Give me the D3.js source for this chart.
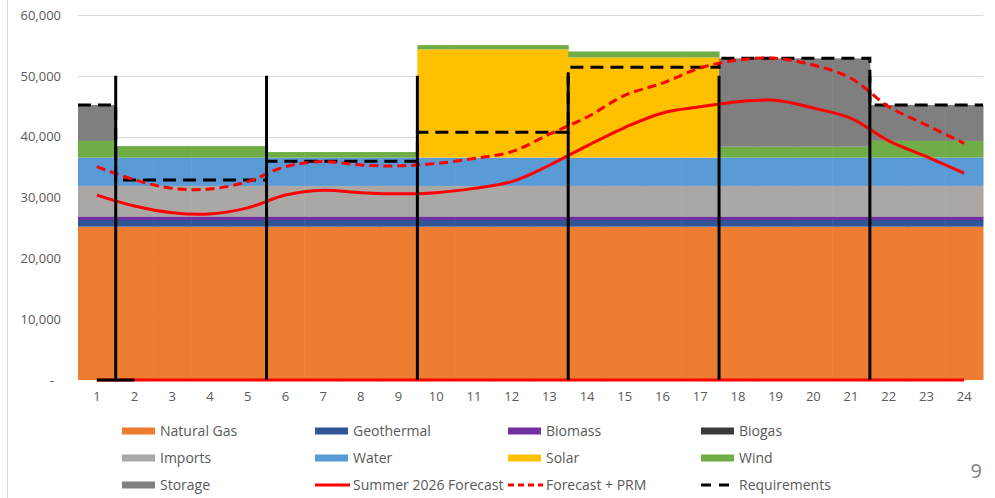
<!DOCTYPE html>
<html>
<head>
<meta charset="utf-8">
<script src="https://cdn.jsdelivr.net/npm/d3@7/dist/d3.min.js"></script>
<style>
  html, body { margin: 0; padding: 0; background: #fff; }
  svg { display: block; font-family: "Open Sans", "Noto Sans", sans-serif; }
</style>
</head>
<body>
<svg id="chart" width="995" height="498"></svg>
<script>
// Hour-ending categories
const hours = ["1","2","3","4","5","6","7","8","9","10","11","12","13","14","15","16","17","18","19","20","21","22","23","24"];

// Resource stack (MW) by hour
const naturalGas = [25200,25200,25200,25200,25200,25200,25200,25200,25200,25200,25200,25200,25200,25200,25200,25200,25200,25200,25200,25200,25200,25200,25200,25200];
const geothermal = [1100,1100,1100,1100,1100,1100,1100,1100,1100,1100,1100,1100,1100,1100,1100,1100,1100,1100,1100,1100,1100,1100,1100,1100];
const biomass    = [550,550,550,550,550,550,550,550,550,550,550,550,550,550,550,550,550,550,550,550,550,550,550,550];
const biogas     = [50,50,50,50,50,50,50,50,50,50,50,50,50,50,50,50,50,50,50,50,50,50,50,50];
const imports    = [5000,5000,5000,5000,5000,5000,5000,5000,5000,5000,5000,5000,5000,5000,5000,5000,5000,5000,5000,5000,5000,5000,5000,5000];
const water      = [4650,4650,4650,4650,4650,4650,4650,4650,4650,4650,4650,4650,4650,4650,4650,4650,4650,4650,4650,4650,4650,4650,4650,4650];
const solar      = [0,0,0,0,0,0,0,0,0,17800,17800,17800,17800,16470,16470,16470,16470,0,0,0,0,0,0,0];
const wind       = [2750,1900,1900,1900,1900,920,920,920,920,710,710,710,710,980,980,980,980,1790,1790,1790,1790,2750,2750,2750];
const storage    = [5900,0,0,0,0,0,0,0,0,0,0,0,0,0,0,0,0,14530,14530,14530,14530,5900,5900,5900];

// Load lines (MW)
const forecast    = [30400,28600,27500,27300,28300,30400,31200,30800,30600,30800,31500,32600,35300,38500,41500,43900,44900,45750,46000,44700,43000,39300,36700,34000];
const forecastPRM = [35070,32900,31500,31400,32600,35070,35900,35340,35200,35600,36400,37530,40400,43200,46800,48800,51300,52600,52880,51780,49600,44930,41920,38900];
const requirements = [45200,32880,32880,32880,32880,35950,35950,35950,35950,40720,40720,40720,40720,51400,51400,51400,51400,52880,52880,52880,52880,45200,45200,45200];

// Block boundaries (first hour of each new block) and their marker height
const blockStarts = ["2","6","10","14","18","22"];
const blockMarkerTop = 50000;

const yTicks = [0,10000,20000,30000,40000,50000,60000];

const seriesNames  = ["Natural Gas","Geothermal","Biomass","Biogas","Imports","Water","Solar","Wind","Storage"];
const seriesValues = [naturalGas, geothermal, biomass, biogas, imports, water, solar, wind, storage];
const seriesColors = ["#ED7D31","#2F5597","#7030A0","#3A3A3A","#ABA7A5","#5B9BD5","#FFC000","#70AD47","#7F7F7F"];

const svg = d3.select("#chart");

const x = d3.scaleBand().domain(hours).range([78, 983]).padding(0);
const y = d3.scaleLinear().domain([0, 60000]).range([380, 15]);
const cx = h => x(h) + x.bandwidth() / 2;

// outer frame line on the left
svg.append("line").attr("x1", 7.5).attr("x2", 7.5).attr("y1", 0).attr("y2", 498)
  .attr("stroke", "#d9d9d9").attr("stroke-width", 1);

// gridlines
svg.append("g").selectAll("line").data(yTicks.filter(d => d > 0)).join("line")
  .attr("x1", 78).attr("x2", 983)
  .attr("y1", d => Math.round(y(d)) + 0.5).attr("y2", d => Math.round(y(d)) + 0.5)
  .attr("stroke", "#d9d9d9").attr("stroke-width", 1);

// y axis labels (accounting style: zero shown as a dash)
const yAxis = d3.axisLeft(y).tickValues(yTicks).tickSize(0).tickPadding(0)
  .tickFormat(d => d === 0 ? "-" : d3.format(",")(d));
const gy = svg.append("g").attr("transform", "translate(61,0)").call(yAxis);
gy.select(".domain").remove();
gy.selectAll("text").attr("fill", "#595959").style("font-size", "13px")
  .style("font-family", "'Open Sans', sans-serif")
  .attr("dx", d => d === 0 ? -7 : 0);

// stacked columns
const table = hours.map((h, i) => {
  const row = { hour: h };
  seriesNames.forEach((n, k) => row[n] = seriesValues[k][i]);
  return row;
});
const stacked = d3.stack().keys(seriesNames)(table);
svg.append("g").selectAll("g").data(stacked).join("g")
  .attr("fill", (d, i) => seriesColors[i])
  .selectAll("rect").data(d => d).join("rect")
  .attr("x", d => x(d.data.hour))
  .attr("width", x.bandwidth() + 0.5)
  .attr("y", d => y(d[1]))
  .attr("height", d => Math.max(0, y(d[0]) - y(d[1])));

// baseline lines along zero
svg.append("line")
  .attr("x1", cx(hours[0])).attr("x2", cx(hours[hours.length - 1]))
  .attr("y1", y(0)).attr("y2", y(0))
  .attr("stroke", "#FF0000").attr("stroke-width", 3);
svg.append("line")
  .attr("x1", cx(hours[0])).attr("x2", cx(hours[1]))
  .attr("y1", y(0)).attr("y2", y(0))
  .attr("stroke", "#000").attr("stroke-width", 3);

// x axis labels
const xAxis = d3.axisBottom(x).tickSize(0).tickPadding(0);
const gx = svg.append("g").attr("transform", "translate(0,392)").call(xAxis);
gx.select(".domain").remove();
gx.selectAll("text").attr("fill", "#595959").style("font-size", "13px")
  .style("font-family", "'Open Sans', sans-serif");

// requirements as flat steps over each hour
const reqPts = [];
hours.forEach((h, i) => {
  reqPts.push([x(h), requirements[i]]);
  reqPts.push([x(h) + x.bandwidth(), requirements[i]]);
});
svg.append("path")
  .datum(reqPts)
  .attr("fill", "none").attr("stroke", "#000").attr("stroke-width", 3)
  .attr("stroke-dasharray", "13,7")
  .attr("d", d3.line().x(d => d[0]).y(d => y(d[1])));

// load forecast lines
const smooth = d3.line().x((d, i) => cx(hours[i])).y(d => y(d)).curve(d3.curveCatmullRom.alpha(0.5));
svg.append("path").datum(forecast)
  .attr("fill", "none").attr("stroke", "#FF0000").attr("stroke-width", 3)
  .attr("d", smooth);
svg.append("path").datum(forecastPRM)
  .attr("fill", "none").attr("stroke", "#FF0000").attr("stroke-width", 3)
  .attr("stroke-dasharray", "9,5")
  .attr("d", smooth);

// block boundary markers
svg.append("g").selectAll("line").data(blockStarts).join("line")
  .attr("x1", d => x(d)).attr("x2", d => x(d))
  .attr("y1", y(0)).attr("y2", y(blockMarkerTop))
  .attr("stroke", "#000").attr("stroke-width", 3);

// legend
const legendItems = [
  { name: "Natural Gas", type: "rect", color: seriesColors[0] },
  { name: "Geothermal", type: "rect", color: seriesColors[1] },
  { name: "Biomass", type: "rect", color: seriesColors[2] },
  { name: "Biogas", type: "rect", color: seriesColors[3] },
  { name: "Imports", type: "rect", color: seriesColors[4] },
  { name: "Water", type: "rect", color: seriesColors[5] },
  { name: "Solar", type: "rect", color: seriesColors[6] },
  { name: "Wind", type: "rect", color: seriesColors[7] },
  { name: "Storage", type: "rect", color: seriesColors[8] },
  { name: "Summer 2026 Forecast", type: "line", color: "#FF0000", dash: null },
  { name: "Forecast + PRM", type: "line", color: "#FF0000", dash: "6,4" },
  { name: "Requirements", type: "line", color: "#000", dash: "10,8" }
];
const legend = svg.append("g");
legendItems.forEach((it, i) => {
  const col = i % 4, row = Math.floor(i / 4);
  const gx0 = 122 + col * 193, gy0 = 431 + row * 27;
  const g = legend.append("g").attr("transform", `translate(${gx0},${gy0})`);
  if (it.type === "rect") {
    g.append("rect").attr("x", 0).attr("y", -3.5).attr("width", 33).attr("height", 7).attr("fill", it.color);
  } else {
    g.append("line").attr("x1", 0).attr("x2", 35).attr("y1", 0).attr("y2", 0)
      .attr("stroke", it.color).attr("stroke-width", 3)
      .attr("stroke-dasharray", it.dash);
  }
  g.append("text").attr("x", 38).attr("y", 0).attr("dy", "0.35em")
    .attr("fill", "#595959").style("font-size", "14px").text(it.name);
});

// page number
svg.append("text").attr("x", 982).attr("y", 478).attr("text-anchor", "end")
  .attr("fill", "#7F7F7F").style("font-size", "20px").text("9");
</script>
</body>
</html>
